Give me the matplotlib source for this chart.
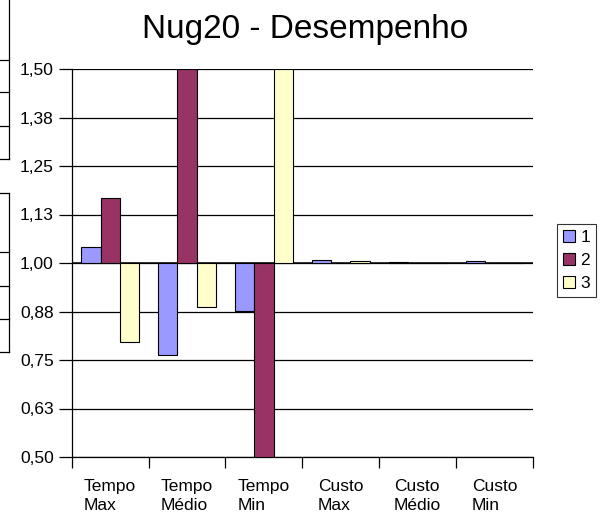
import matplotlib.pyplot as plt
from matplotlib.lines import Line2D
import numpy as np

plt.rcParams['font.family'] = ['Liberation Sans', 'DejaVu Sans']

categories = ['Tempo\nMax', 'Tempo\nMédio', 'Tempo\nMin', 'Custo\nMax', 'Custo\nMédio', 'Custo\nMin']
series_names = ['1', '2', '3']
serie1 = [1.042, 0.762, 0.876, 1.009, 1.003, 1.005]
serie2 = [1.168, 1.50, 0.50, 1.001, 1.001, 1.001]
serie3 = [0.796, 0.886, 1.50, 1.005, 1.001, 1.001]
yticks = [0.50, 0.625, 0.75, 0.875, 1.00, 1.125, 1.25, 1.375, 1.50]
ytick_labels = ['0,50', '0,63', '0,75', '0,88', '1,00', '1,13', '1,25', '1,38', '1,50']
colors = ['#9999FF', '#993366', '#FFFFCC']

W, H = 605, 517
fs = 12.5
fig = plt.figure(figsize=(W / 100, H / 100), dpi=100)
ax = fig.add_axes([71.7 / W, 1 - 457 / H, (533 - 71.7) / W, (457 - 69) / H])

x = np.arange(len(categories))
width = 0.25
base = 1.0
for i, (vals, name, c) in enumerate(zip([serie1, serie2, serie3], series_names, colors)):
    heights = np.array(vals) - base
    ax.bar(x + (i - 1) * width, heights, width, bottom=base, color=c,
           edgecolor='black', linewidth=0.8, label=name, zorder=3)

ax.set_xlim(-0.5, len(categories) - 0.5)
ax.set_ylim(0.5, 1.5)
ax.set_yticks(yticks)
ax.set_yticklabels(ytick_labels, fontsize=fs)
ax.yaxis.grid(True, color='black', linewidth=0.9, zorder=1)
ax.tick_params(axis='y', length=9.5, width=0.9, pad=3.5, direction='out')

# category ticks sit on the boundaries, labels in the middle
ax.set_xticks(np.arange(len(categories) + 1) - 0.5)
ax.set_xticklabels([])
ax.set_xticks(x, minor=True)
ax.set_xticklabels(categories, minor=True, fontsize=fs, multialignment='left',
                   linespacing=1.35)
ax.tick_params(axis='x', which='major', length=8, width=0.9, direction='out')
ax.tick_params(axis='x', which='minor', length=0, pad=16)

for side in ['top', 'right']:
    ax.spines[side].set_visible(False)
ax.spines['left'].set_linewidth(0.9)
ax.spines['bottom'].set_linewidth(0.9)
ax.axhline(1.0, color='black', linewidth=1.1, zorder=2)

fig.text(305 / W, 1 - 38 / H, 'Nug20 - Desempenho', fontsize=24,
         ha='center', va='baseline')

leg = fig.legend(loc='upper left', bbox_to_anchor=(557 / W, 1 - 224 / H),
                 fontsize=fs, frameon=True, fancybox=False, handlelength=0.7,
                 handleheight=0.7, handletextpad=0.3, borderpad=0.35,
                 labelspacing=0.45, borderaxespad=0)
leg.get_frame().set_edgecolor('black')
leg.get_frame().set_linewidth(0.8)

# frames of the neighbouring boxes cut at the left edge
def fig_line(xs, ys):
    fig.add_artist(Line2D([v / W for v in xs], [1 - v / H for v in ys],
                          color='black', linewidth=0.9))

fig_line([8.5, 8.5], [0, 159])
for yy in [60, 92, 126, 159]:
    fig_line([0, 8.5], [yy, yy])
fig_line([8.5, 8.5], [193, 352])
for yy in [193, 252, 286, 319, 352]:
    fig_line([0, 8.5], [yy, yy])

fig.savefig('out.png', dpi=100)
